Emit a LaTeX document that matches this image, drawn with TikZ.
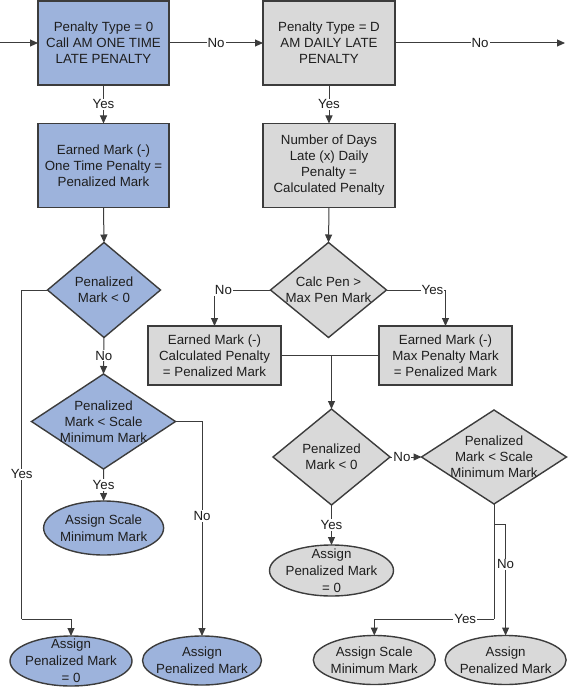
\documentclass[tikz,border=0pt]{standalone}
\usepackage{fontspec}
\setmainfont{Liberation Sans}
\usetikzlibrary{arrows.meta,shapes.geometric,calc}
\definecolor{bfill}{RGB}{157,179,220}
\definecolor{gfill}{RGB}{217,217,217}
\definecolor{lc}{RGB}{60,60,60}
\definecolor{tc}{RGB}{30,30,30}
\newcommand{\ff}{\fontsize{13.3pt}{16pt}\selectfont}
\newcommand{\ffe}{\fontsize{13.3pt}{17pt}\selectfont}
\begin{document}
\begin{tikzpicture}[x=1pt,y=-1pt,
  base/.style={draw=lc, line width=1.4pt, inner sep=0pt, outer sep=0pt},
  boxs/.style={base, rectangle, minimum width=131pt, minimum height=84pt, align=center, font=\ff, text=tc},
  shortbox/.style={base, rectangle, minimum width=133pt, minimum height=59pt, align=center, font=\ff, text=tc},
  dia/.style={base, diamond},
  ell/.style={base, ellipse},
  txt/.style={align=center, font=\ff, text=tc, inner sep=0pt},
  etxt/.style={align=center, font=\ffe, text=tc, inner sep=0pt},
  lab/.style={fill=white, inner sep=1pt, font=\ff, text=tc},
  ln/.style={draw=lc, line width=1pt},
  arr/.style={ln, -{Triangle[length=8pt,width=7pt]}}
]
\useasboundingbox (0,0) rectangle (567,687);

% boxes
\node[boxs, fill=bfill] (b1) at (103.5,43) {Penalty Type = 0\\Call AM ONE TIME\\LATE PENALTY};
\node[boxs, fill=gfill, minimum width=132pt] (b2) at (329,43) {Penalty Type = D\\AM DAILY LATE\\PENALTY};
\node[boxs, fill=bfill] (b3) at (103.5,165.5) {Earned Mark (-)\\One Time Penalty =\\Penalized Mark};
\node[boxs, fill=gfill, minimum width=132pt] (b4) at (329,165.5) {Number of Days\\Late (x) Daily\\Penalty =\\Calculated Penalty};
\node[shortbox, fill=gfill] (b5) at (214.5,355.5) {Earned Mark (-)\\Calculated Penalty\\= Penalized Mark};
\node[shortbox, fill=gfill] (b6) at (445.5,355.5) {Earned Mark (-)\\Max Penalty Mark\\= Penalized Mark};

% diamonds
\node[dia, fill=bfill, minimum width=113pt, minimum height=95pt] (d1) at (104,290) {};
\node[txt] (d1t) at (d1.center) {Penalized\\Mark < 0};
\node[dia, fill=gfill, minimum width=116pt, minimum height=95pt] (dc) at (328.5,290) {};
\node[txt] (dct) at (dc.center) {Calc Pen >\\Max Pen Mark};
\node[dia, fill=bfill, minimum width=144pt, minimum height=95pt] (d2) at (103.5,421.5) {};
\node[txt] (d2t) at (d2.center) {Penalized\\Mark < Scale\\Minimum Mark};
\node[dia, fill=gfill, minimum width=117pt, minimum height=96pt] (d3) at (331.5,457) {};
\node[txt] (d3t) at (d3.center) {Penalized\\Mark < 0};
\node[dia, fill=gfill, minimum width=145pt, minimum height=94pt] (d4) at (494,457) {};
\node[txt] (d4t) at (d4.center) {Penalized\\Mark < Scale\\Minimum Mark};

% ellipses
\node[ell, fill=bfill, minimum width=120pt, minimum height=54pt] (e1) at (103.6,528) {};
\node[etxt] (e1t) at (e1.center) {Assign Scale\\Minimum Mark};
\node[ell, fill=bfill, minimum width=122pt, minimum height=50pt] (e2) at (71,661) {};
\node[etxt] (e2t) at (e2.center) {Assign\\Penalized Mark\\= 0};
\node[ell, fill=bfill, minimum width=119pt, minimum height=49pt] (e3) at (202,660.5) {};
\node[etxt] (e3t) at (e3.center) {Assign\\Penalized Mark};
\node[ell, fill=gfill, minimum width=124pt, minimum height=51pt] (e4) at (331.5,570.5) {};
\node[etxt] (e4t) at (e4.center) {Assign\\Penalized Mark\\= 0};
\node[ell, fill=gfill, minimum width=122pt, minimum height=49pt] (e5) at (374.3,660) {};
\node[etxt] (e5t) at (e5.center) {Assign Scale\\Minimum Mark};
\node[ell, fill=gfill, minimum width=121pt, minimum height=49pt] (e6) at (505.6,660) {};
\node[etxt] (e6t) at (e6.center) {Assign\\Penalized Mark};

% helper coordinates
\coordinate (start) at (0,43);
\coordinate (endr) at (565,43);
\coordinate (yl) at (21.7,619);
\coordinate (yc) at (494,619);
\coordinate (nb) at (494,524);

% connectors
\draw[arr] (start) -- (b1.west);
\draw[arr] (b1.east) -- node[lab]{No} (b2.west);
\draw[arr] (b2.east) -- node[lab]{No} (endr);
\draw[arr] (b1.south) -- node[lab]{Yes} (b3.north);
\draw[arr] (b2.south) -- node[lab]{Yes} (b4.north);
\draw[arr] (b3.south) -- (d1.north);
\draw[arr] (b4.south) -- (dc.north);
\draw[arr] (dc.west) -| node[lab, pos=0.42]{No} (b5.north);
\draw[arr] (dc.east) -| node[lab, pos=0.39]{Yes} (b6.north);
\draw[ln] (b5.east) -- (b6.west);
\draw[arr] (b5.east -| d3.north) -- (d3.north);
\draw[arr] (d1.south) -- node[lab]{No} (d2.north);
\draw[ln] (d1.west) -| node[lab, pos=0.78]{Yes} (yl);
\draw[arr] (yl) -| (e2.north);
\draw[arr] (d2.east) -| node[lab, pos=0.72]{No} (e3.north);
\draw[arr] (d2.south) -- node[lab]{Yes} (e1.north);
\draw[arr] (d3.east) -- node[lab, pos=0.38]{No} (d4.west);
\draw[arr] (d3.south) -- node[lab]{Yes} (e4.north);
\draw[ln] (d4.south) -- (yc);
\draw[arr] (yc) -| node[lab, pos=0.12]{Yes} (e5.north);
\draw[arr] (nb) -| node[lab, pos=0.68]{No} (e6.north);
\end{tikzpicture}
\end{document}
